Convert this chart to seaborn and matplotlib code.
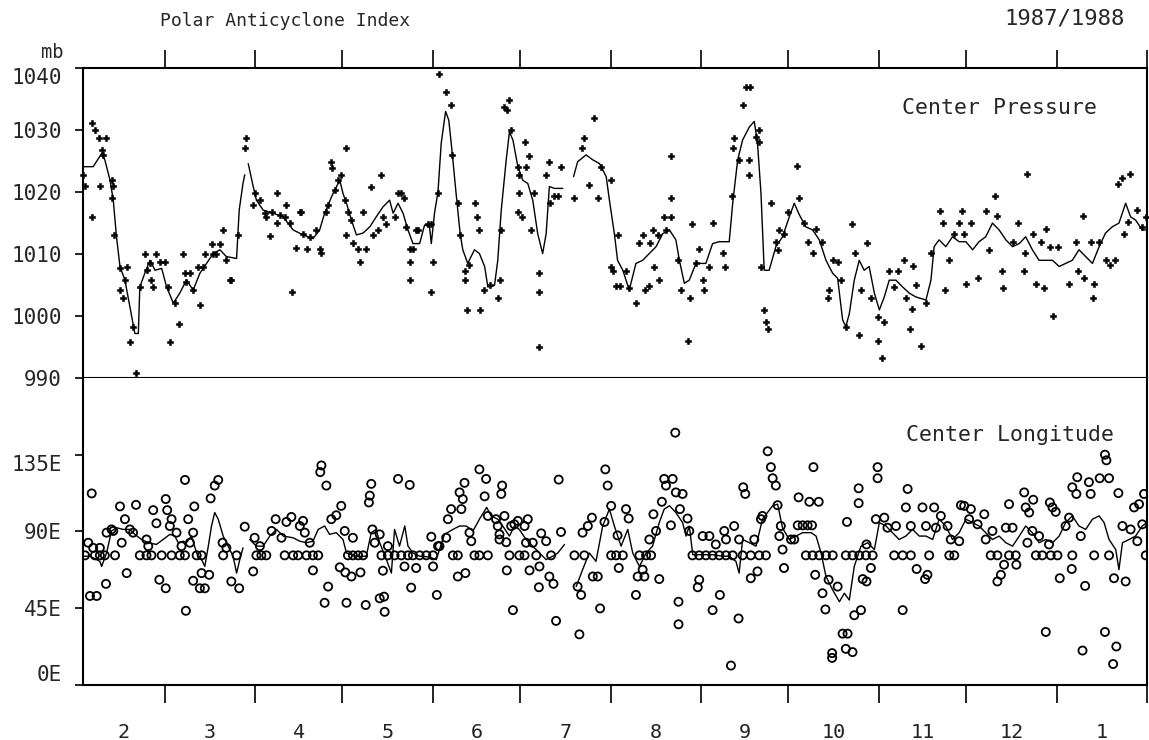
import numpy as np
import pandas as pd
import matplotlib
matplotlib.use("Agg")
import matplotlib.pyplot as plt
import seaborn as sns

# ---------------- data (day 0 = 1 Feb 1987) ----------------
month_labels = ["2", "3", "4", "5", "6", "7", "8", "9", "10", "11", "12", "1"]
month_lengths = [28, 31, 30, 31, 30, 31, 31, 30, 31, 30, 31, 31]
pres_ticks = [990, 1000, 1010, 1020, 1030, 1040]
lon_ticks = [0, 45, 90, 135]
lon_tick_labels = ["0E", "45E", "90E", "135E"]

# running mean of centre pressure (NaN = gap in curve)
pres_line_day = [0.1, 3.5, 6.4, 7.5, 9.3, 10.4, 11.5, 12.7, 14.4, 16.1, 17.8, 19.0, 19.5, 21.2, 23.0,
                 24.7, 27.0, 28.7, 31.0, 33.2, 35.5, 37.8, 40.1, 42.4, 44.7, 47.0, 49.2, 52.7, 53.6,
                 54.9, 55.5, 56.1, 56.7, 58.4, 59.5, 61.8, 65.2, 68.7, 72.1, 75.5, 78.9, 81.2, 82.9,
                 85.8, 88.1, 89.2, 90.4, 92.1, 93.8, 96.1, 98.4, 100.6, 102.9, 105.2, 106.4, 108.1,
                 109.8, 111.5, 113.2, 115.5, 117.2, 118.9, 119.5, 120.6, 121.8, 122.9, 124.4, 125.5,
                 126.7, 128.0, 129.4, 130.3, 132.0, 134.3, 136.0, 137.8, 138.9, 141.2, 142.3, 143.5,
                 145.2, 146.3, 147.5, 149.2, 150.9, 152.6, 154.3, 156.0, 157.7, 158.9, 160.0, 161.7,
                 164.6, 166.5, 168.3, 169.7, 172.6, 174.9, 177.2, 179.5, 180.6, 182.3, 183.4, 185.2,
                 187.4, 189.7, 192.0, 194.3, 196.6, 198.9, 201.2, 203.4, 204.6, 206.3, 208.0, 210.3,
                 213.7, 216.0, 218.3, 221.7, 222.9, 224.6, 226.3, 228.6, 230.3, 231.4, 232.6, 233.7,
                 235.4, 237.7, 240.0, 242.3, 244.0, 245.8, 248.0, 250.3, 252.6, 254.9, 257.2, 258.9,
                 260.6, 261.7, 262.9, 264.6, 266.3, 268.0, 269.7, 271.5, 273.2, 274.9, 276.6, 278.9,
                 281.2, 283.5, 285.7, 289.2, 290.9, 292.0, 293.7, 296.0, 298.3, 300.6, 302.9, 305.2,
                 307.4, 309.7, 312.0, 314.3, 316.6, 318.9, 321.2, 323.4, 325.7, 328.0, 330.3, 332.6,
                 334.9, 337.1, 339.4, 341.7, 344.0, 346.3, 348.6, 350.8, 353.1, 355.4, 357.7, 359.4,
                 361.1, 363.4, 365.0]
pres_line_val = [1024.1, 1024.1, 1026.2, 1025.2, 1021.9, 1018.7, 1012.8, 1008.0, 1005.8, 1001.5, 997.2,
                 997.2, 1004.7, 1006.9, 1009.0, 1007.4, 1007.7, 1004.7, 1002.1, 1003.7, 1005.8, 1004.2,
                 1006.9, 1008.5, 1010.1, 1010.7, 1009.6, 1009.3, 1017.1, 1021.4, 1022.8, np.nan, 1024.6,
                 1020.9, 1018.7, 1017.1, 1016.6, 1016.0, 1013.9, 1013.1, 1012.5, 1013.9, 1016.6, 1019.8,
                 1021.9, 1019.8, 1018.2, 1015.5, 1013.1, 1013.4, 1014.4, 1016.0, 1017.6, 1018.7, 1016.6,
                 1018.2, 1016.6, 1013.9, 1011.7, 1011.7, 1014.7, 1014.4, 1011.7, 1016.6, 1020.1, 1027.9,
                 1033.0, 1031.6, 1026.2, 1019.8, 1013.3, 1010.7, 1008.5, 1010.7, 1010.1, 1008.0, 1004.7,
                 1005.0, 1009.0, 1017.1, 1025.2, 1029.7, 1028.4, 1024.1, 1021.9, 1021.4, 1018.7, 1013.3,
                 1010.1, 1013.3, 1020.9, 1020.6, 1020.6, np.nan, 1022.5, 1024.9, 1026.0, 1025.2, 1024.6,
                 1022.5, 1018.7, 1013.3, 1009.0, 1007.4, 1004.2, 1008.5, 1009.0, 1010.1, 1011.2, 1013.3,
                 1013.9, 1012.3, 1009.0, 1005.3, 1005.8, 1008.5, 1008.5, 1011.7, 1012.0, 1012.0, 1018.2,
                 1025.2, 1028.4, 1030.5, 1031.4, 1027.9, 1019.8, 1007.4, 1007.4, 1011.2, 1012.8, 1016.0,
                 1018.2, 1016.3, 1014.4, 1013.9, 1012.3, 1009.0, 1006.9, 1006.1, 999.4, 998.3, 1000.4,
                 1005.8, 1009.0, 1007.4, 1008.0, 1003.7, 1001.0, 1003.1, 1005.8, 1005.8, 1004.7, 1003.7,
                 1003.1, 1002.6, 1005.8, 1011.2, 1012.3, 1011.2, 1012.8, 1012.0, 1012.0, 1010.7, 1012.0,
                 1012.8, 1015.0, 1013.9, 1012.3, 1011.2, 1011.7, 1012.8, 1010.7, 1009.0, 1009.0, 1009.0,
                 1008.0, 1008.5, 1009.0, 1010.7, 1009.6, 1008.5, 1011.2, 1013.4, 1014.4, 1015.0, 1018.2,
                 1016.0, 1015.5, 1013.9, 1013.9]

# individual centre-pressure observations
pres_pt_day = [0.1, 0.7, 3.0, 4.1, 5.6, 7.9, 5.8, 3.0, 6.4, 7.0, 9.8, 10.4, 10.1, 10.7, 12.7, 15.0, 12.7,
               13.6, 14.4, 16.3, 17.2, 18.2, 19.5, 21.2, 21.8, 23.0, 23.5, 24.1, 25.0, 26.4, 28.1, 29.2,
               30.0, 31.5, 33.0, 34.4, 35.0, 35.5, 36.7, 37.8, 39.5, 40.1, 41.8, 41.2, 44.1, 44.7, 45.8,
               48.1, 47.0, 49.2, 50.4, 50.9, 53.2, 55.5, 55.9, 58.9, 58.4, 60.7, 62.4, 62.9, 64.1, 64.7,
               66.7, 66.4, 67.5, 69.2, 69.8, 70.9, 71.7, 73.0, 74.4, 74.9, 75.5, 76.7, 77.8, 80.1, 81.2,
               81.8, 83.5, 84.1, 85.2, 85.6, 87.5, 88.6, 86.4, 90.4, 89.8, 90.1, 90.9, 92.1, 92.6, 94.4,
               94.9, 96.1, 97.2, 98.9, 99.5, 101.2, 102.4, 102.9, 103.8, 106.9, 108.1, 109.2, 110.3,
               110.9, 112.3, 112.3, 112.3, 113.2, 114.3, 114.9, 118.3, 119.5, 120.1, 119.5, 121.8, 122.1,
               124.4, 126.3, 126.7, 128.6, 129.4, 130.9, 130.9, 131.7, 132.6, 134.6, 135.1, 135.7, 136.3,
               137.5, 139.5, 142.3, 142.9, 143.5, 144.6, 146.1, 145.4, 146.9, 149.2, 149.5, 151.8, 152.0,
               152.9, 149.7, 149.2, 150.7, 153.7, 154.9, 156.4, 156.6, 156.3, 158.9, 160.0, 160.3, 161.7,
               162.9, 164.0, 168.4, 171.1, 172.0, 173.5, 175.4, 176.6, 177.7, 181.2, 183.4, 181.2, 181.7,
               182.9, 184.3, 186.3, 187.4, 189.7, 190.9, 192.0, 192.9, 194.1, 194.5, 195.4, 196.0, 197.2,
               197.7, 199.4, 201.7, 201.7, 201.7, 200.0, 204.0, 205.2, 207.4, 208.2, 208.8, 210.3, 211.4,
               212.6, 213.1, 214.9, 216.0, 219.4, 220.3, 222.6, 222.9, 223.4, 225.1, 226.6, 227.4, 228.8,
               228.6, 228.6, 230.9, 231.8, 232.0, 232.6, 233.7, 234.3, 235.1, 236.2, 237.7, 238.9, 240.5,
               241.7, 238.3, 244.8, 245.5, 247.5, 250.3, 248.6, 251.5, 253.7, 257.2, 258.9, 256.0, 255.5,
               260.0, 261.7, 263.8, 266.3, 265.0, 268.8, 266.9, 270.3, 272.6, 272.6, 274.0, 274.9, 276.6,
               279.5, 278.3, 281.7, 282.3, 283.7, 284.6, 285.7, 284.4, 287.5, 289.2, 290.9, 294.0, 294.9,
               295.8, 297.2, 298.9, 301.5, 300.4, 302.3, 303.1, 304.6, 307.1, 309.7, 310.9, 312.9, 313.7,
               315.4, 315.7, 318.9, 320.9, 322.9, 323.1, 324.0, 325.9, 327.1, 328.6, 329.7, 330.3, 331.7,
               332.8, 334.6, 338.1, 340.8, 341.5, 342.9, 343.4, 345.7, 346.5, 346.8, 348.6, 350.8, 352.3,
               354.0, 355.2, 356.6, 359.1, 357.1, 358.6, 361.7, 363.4, 364.6, 261.7]
pres_pt_val = [1022.8, 1021.0, 1031.1, 1030.0, 1028.8, 1028.8, 1021.0, 1016.0, 1026.8, 1026.0, 1021.9,
               1021.0, 1019.0, 1013.1, 1007.7, 1007.9, 1004.2, 1002.9, 1005.8, 995.9, 998.3, 990.8, 1004.7,
               1010.0, 1007.4, 1008.6, 1005.8, 1004.7, 1010.0, 1008.8, 1008.8, 1004.7, 995.9, 1002.1, 998.8,
               1010.0, 1006.9, 1005.5, 1006.9, 1004.2, 1008.0, 1001.8, 1010.0, 1008.0, 1011.7, 1010.0,
               1010.0, 1013.9, 1011.7, 1009.0, 1005.8, 1005.8, 1013.1, 1027.1, 1028.8, 1019.8, 1017.9,
               1018.7, 1016.6, 1016.0, 1012.9, 1016.8, 1019.8, 1015.0, 1016.3, 1016.0, 1017.9, 1015.0,
               1003.9, 1011.0, 1016.8, 1016.8, 1013.3, 1010.9, 1012.8, 1013.9, 1010.9, 1010.1, 1016.8,
               1017.9, 1024.9, 1023.9, 1021.9, 1022.7, 1020.3, 1027.1, 1018.7, 1013.1, 1016.8, 1015.5,
               1011.8, 1010.9, 1008.8, 1016.8, 1010.9, 1020.9, 1013.1, 1013.9, 1022.7, 1016.0, 1014.8,
               1016.0, 1019.8, 1019.8, 1019.0, 1014.4, 1010.9, 1008.8, 1005.8, 1010.9, 1013.9, 1013.9,
               1014.8, 1014.8, 1008.8, 1003.9, 1019.8, 1039.0,
               1036.2, 1034.0, 1026.0, 1018.2, 1013.1, 1007.2, 1005.8, 1001.0, 1008.2, 1018.2, 1016.0,
               1013.9, 1001.0, 1004.2, 1005.0, 1002.9, 1005.8, 1013.9, 1033.8, 1034.8, 1033.2, 1030.0,
               1024.1, 1022.8, 1028.0, 1024.1, 1025.8, 1019.8, 1016.8, 1016.0, 1013.9, 1019.8, 1006.9,
               1003.9, 995.1, 1022.8, 1024.9, 1018.2, 1019.3, 1019.3, 1024.1, 1019.0, 1027.1, 1028.8,
               1021.1, 1031.9, 1019.0, 1024.1, 1021.9, 1013.1, 1008.0, 1007.2, 1004.8, 1004.8, 1007.2,
               1004.5, 1002.1, 1011.8, 1013.1, 1004.2, 1004.8, 1011.8, 1013.9, 1008.0, 1013.1, 1005.8,
               1016.0, 1016.0, 1019.0, 1025.9, 1013.9, 1009.0, 1004.2, 996.0, 1002.9, 1014.8, 1008.5,
               1010.9, 1005.8, 1004.2, 1008.0, 1015.0, 1010.1, 1008.0, 1019.3, 1027.1, 1028.8, 1025.2,
               1034.0, 1037.0, 1037.0, 1025.2, 1022.8, 1028.9, 1030.0, 1028.1, 1008.0, 1001.0, 999.1,
               998.0, 1018.2, 1012.0, 1013.9, 1013.3, 1016.8, 1010.7,
               1024.2, 1019.0, 1015.0, 1010.2, 1012.0, 1014.1, 1012.0, 1009.0, 1008.8, 1004.2, 1003.0,
               1005.8, 998.3, 1014.8, 996.9, 1010.2, 1011.8, 1004.2, 1002.9, 999.9, 996.0, 993.2, 999.1,
               1007.2, 1007.2, 1004.7, 1009.0, 1003.0, 998.0, 1008.1, 1005.0, 1001.2, 995.2, 1002.1,
               1010.1, 1017.0, 1015.0, 1004.2, 1009.0, 1013.3, 1017.0, 1015.0, 1013.3, 1005.2, 1015.0,
               1006.1, 1017.0, 1010.7, 1019.3, 1016.2, 1007.3, 1004.5, 1012.0, 1015.0, 1007.3, 1010.1,
               1023.0, 1013.3, 1005.2, 1012.0, 1004.5, 1014.1, 1011.2, 1000.0, 1011.1, 1005.2, 1012.0,
               1007.3, 1016.2, 1006.1, 1012.0, 1003.0, 1005.2, 1012.0, 1009.0, 1008.2, 1009.0, 1021.3,
               1022.2, 1023.0, 1013.3, 1015.1, 1017.1, 1014.4, 1016.0, 989.4]

# running mean of centre longitude (NaN = gap in curve)
lon_line_day = [0.1, 2.4, 5.8, 6.4, 8.1, 9.8, 11.5, 13.8, 16.1, 17.8, 20.1, 22.4, 25.2, 27.5, 29.8, 31.5,
                32.7, 34.4, 35.5, 37.2, 39.0, 40.7, 41.8, 43.0, 44.1, 45.2, 46.4, 48.1, 49.8, 51.5, 52.7,
                53.8, 54.9, 56.0, 57.2, 59.5, 61.8, 64.1, 66.4, 68.7, 72.1, 74.4, 76.7, 78.9, 80.7, 82.9,
                84.6, 86.9, 89.2, 90.4, 93.8, 97.2, 98.9, 100.6, 101.8, 104.1, 105.8, 106.9, 108.6, 110.4,
                111.5, 113.2, 115.5, 118.9, 121.2, 124.0, 126.9, 129.2, 131.5, 133.8, 136.0, 138.5, 140.0,
                142.3, 144.0, 146.3, 148.0, 149.7, 152.0, 154.3, 156.6, 158.9, 161.2, 162.9, 165.2, 167.0,
                169.2, 171.4, 173.7, 176.0, 178.3, 180.6, 182.3, 184.6, 186.9, 188.6, 190.9, 193.2, 195.4,
                197.7, 199.4, 201.2, 203.4, 205.7, 206.9, 208.0, 209.2, 212.6, 216.0, 219.4, 221.7, 224.0,
                225.1, 226.3, 228.6, 230.9, 233.1, 236.6, 238.3, 238.9, 240.0, 242.3, 244.6, 246.9, 249.8,
                251.5, 253.2, 254.9, 257.2, 259.5, 261.2, 262.9, 264.6, 266.9, 269.2, 271.5, 273.2, 275.5,
                277.7, 280.0, 282.3, 284.6, 286.9, 289.2, 291.5, 293.7, 296.0, 298.3, 300.6, 302.9, 305.2,
                307.4, 309.7, 312.0, 314.3, 316.6, 318.9, 321.2, 323.4, 325.7, 328.0, 330.3, 332.6, 334.9,
                337.1, 339.4, 341.7, 344.0, 346.3, 348.6, 350.3, 352.0, 354.3, 355.4, 356.6, 358.9, 361.1,
                363.4, 365.0]
lon_line_val = [75.5, 75.5, 72.5, 69.5, 77.4, 90.3, 92.2, 91.2, 91.2, 88.3, 85.3, 83.4, 82.4, 85.3, 88.3,
                87.3, 83.4, 84.3, 83.4, 87.3, 77.4, 73.5, 69.5, 81.4, 93.2, 101.1, 97.2, 87.3, 81.4, 75.5,
                65.6, 73.5, 80.4, np.nan, 85.3, 81.4, 81.4, 87.3, 91.2, 87.3, 86.3, 84.3, 83.4, 84.3, 91.2,
                93.2, 88.3, 89.3, 85.3, 77.4, 75.5, 75.5, 89.3, 91.2, 83.4, 73.5, 65.6, 91.2, 81.4, 93.2,
                81.4, 77.4, 75.5, 75.0, 73.5, 88.3, 91.2, 93.2, 93.2, 90.3, 97.2, 104.1, 99.1, 97.2, 93.2,
                87.3, 93.2, 91.2, 85.3, 81.4, 77.4, 73.5, 75.5, 77.4, 82.4, np.nan, 57.7, 67.6, 77.4, 72.5,
                93.2, 103.1, 93.2, 81.4, 91.2, 77.4, 69.5, 77.4, 81.4, 95.2, 103.1, 105.1, 101.1, 95.2, 87.3,
                93.2, 76.4, 76.4, 76.4, 75.5, 75.5, 72.5, 65.6, 85.3, 83.4, 81.4, 97.2, 105.1, 106.0, 101.1,
                92.0, 85.3, 87.3, 89.3, 89.3, 87.3, 77.4, 63.6, 55.7, 48.8, 53.8, 49.8, 69.5, 81.4, 83.4,
                79.4, 95.2, 93.2, 89.3, 85.3, 87.3, 91.2, 87.3, 87.3, 85.3, 97.2, 93.2, 85.3, 89.3, 97.2,
                95.2, 93.2, 89.3, 85.3, 87.3, 83.4, 81.4, 87.3, 93.2, 89.3, 83.4, 85.3, 83.4, 87.3, 95.2,
                99.1, 93.2, 91.2, 97.2, 99.1, 95.2, 85.3, 79.4, 67.6, 83.4, 85.3, 87.3, 93.2, 95.2]

# individual centre-longitude observations
lon_pt_day = [0.7, 4.1, 5.8, 7.5, 11.0, 19.5, 21.8, 23.5, 27.0, 30.4, 33.2, 35.0, 39.0, 40.7, 48.1, 52.7,
              59.5, 61.2, 62.9, 69.2, 72.1, 73.8, 76.7, 78.9, 80.7, 90.9, 92.6, 94.4, 96.1, 102.4, 104.6,
              106.9, 109.2, 111.5, 113.2, 115.5, 117.8, 120.1, 126.9, 128.6, 134.3, 136.0, 138.9, 146.3,
              149.7, 151.5, 155.5, 160.6, 168.6, 172.0, 181.2, 182.9, 185.2, 190.9, 193.2, 194.9, 209.1,
              211.4, 213.7, 216.0, 218.3, 220.6, 222.9, 226.3, 229.1, 232.0, 234.3, 248.0, 250.3, 252.6,
              254.9, 257.2, 261.7, 264.0, 266.3, 268.6, 270.9, 278.3, 281.2, 284.0, 290.3, 297.2, 298.9,
              311.4, 313.7, 317.7, 320.0, 326.9, 329.1, 332.0, 334.3, 339.4, 346.9, 352.0, 364.6,
              3.0, 1.8, 3.5, 5.8, 7.9, 2.4, 4.7, 8.1, 9.8, 10.4, 12.7, 13.3, 14.4, 15.0, 16.1, 17.2, 18.2,
              21.8, 22.4, 24.1, 25.2, 26.2, 28.4, 28.4, 28.9, 29.8, 30.4, 32.1, 33.8, 35.0, 35.3, 36.1,
              37.8, 38.2, 36.7, 37.8, 40.1, 41.8, 40.7, 43.3, 43.8, 45.2, 46.4, 47.9, 49.2, 50.9, 53.6,
              55.5, 58.4, 58.9, 60.7, 64.7, 66.1, 68.1, 69.8, 71.5, 74.4, 75.5, 76.1, 77.8, 78.9, 81.8,
              81.4, 83.5, 84.1, 82.9, 85.2, 86.9, 88.6, 88.1, 89.8, 90.0, 92.1, 92.6, 90.4, 95.2, 97.0,
              98.1, 98.4, 98.9, 99.3, 100.1, 101.8, 101.8, 103.3, 103.5, 102.9, 104.6, 108.1, 112.1,
              110.3, 112.6, 114.3, 119.5, 120.1, 121.8, 121.4,
              122.3, 125.2, 126.3, 124.6, 128.6, 129.2, 130.3, 130.9, 129.8, 131.2, 132.6, 133.2, 136.0,
              137.8, 138.3, 138.9, 141.7, 142.3, 142.9, 142.9, 143.5, 143.8, 144.6, 145.4, 145.2, 146.9,
              147.5, 148.0, 149.2, 151.5, 152.6, 152.0, 153.2, 154.3, 156.4, 156.6, 157.2, 158.9, 160.0,
              161.4, 162.3, 163.2, 164.0, 169.7, 170.9, 170.3, 171.4, 173.2, 174.6, 174.9, 176.6, 177.4,
              178.9, 179.2, 180.0, 181.2, 183.4, 183.8, 186.3, 187.2, 189.7, 190.3, 192.0, 192.6, 194.3,
              195.7, 196.6, 197.7, 198.6, 199.4, 200.0, 202.3, 203.2, 203.4, 201.7, 204.3, 204.3, 204.8,
              205.7, 207.4, 208.0, 210.9, 211.4, 212.6, 214.9, 216.0, 217.1, 218.5, 220.0, 220.6, 222.3,
              223.4, 224.9, 225.1, 226.5, 227.2, 229.1, 230.3, 231.4, 232.6, 233.1, 234.9, 236.0, 236.6,
              237.7, 238.3, 239.4, 238.9, 240.0, 240.5,
              242.9, 244.0, 245.2, 246.9, 248.6, 250.1, 245.5, 249.2, 252.4, 250.6, 251.2, 253.7, 254.7,
              255.8, 257.0, 257.0, 258.9, 260.6, 262.3, 261.7, 264.0, 262.1, 264.6, 266.9, 266.1, 266.1,
              267.5, 268.8, 268.8, 270.3, 272.0, 272.6, 272.6, 274.9, 276.0, 278.9, 281.2, 282.9, 282.3,
              284.0, 286.0, 288.0, 288.9, 289.7, 289.2, 292.0, 292.6, 294.3, 296.6, 297.7, 300.6, 301.2,
              302.3, 304.6, 304.0, 306.9, 309.2, 309.7, 312.0, 313.7, 314.9, 316.0, 316.6, 318.9, 320.2,
              317.7, 322.9, 323.4, 324.6, 326.0, 324.0, 325.7, 328.0, 330.3, 331.7, 332.6, 333.7, 331.4,
              335.1, 337.1, 338.3, 339.2, 339.4, 341.1, 340.8, 342.3, 342.9, 343.8, 345.1, 345.7, 348.8,
              352.0, 350.6, 351.1, 350.6, 353.4, 354.5, 355.2, 353.7, 357.7, 356.6, 359.4, 360.6, 362.3,
              364.0, 361.7, 363.4]
lon_pt_val = [76.0] * 95 + [
              112.3, 83.4, 80.4, 80.4, 59.3, 52.2, 52.2, 89.3, 91.2, 90.3, 104.7, 83.4, 97.2, 65.6, 91.2,
              89.3, 105.6, 85.3, 81.4, 102.5, 94.8, 61.7, 56.7, 109.0, 102.5, 93.2, 97.2, 89.3, 81.4,
              120.2, 43.5, 97.2, 89.3, 104.7, 83.4, 61.1, 56.7, 56.7, 65.6, 64.6, 109.4, 116.9, 120.2,
              83.4, 80.4, 60.7, 56.7, 92.8, 66.6, 86.3, 81.4, 90.3, 97.2, 86.3, 95.6, 98.5, 93.2, 96.2,
              89.3, 83.4, 67.2, 128.7, 124.8, 116.9, 57.7, 48.2, 97.2, 99.5, 105.0, 69.0, 90.3, 66.0,
              63.6, 86.3, 48.2, 66.0, 46.9, 107.0, 111.0, 117.9, 91.2, 83.4, 88.3, 50.8, 51.8, 42.9, 67.0,
              81.4, 120.8, 117.3, 69.5, 57.1, 68.6, 86.9, 69.5, 81.4, 52.8,
              81.4, 97.2, 103.1, 86.3, 63.6, 112.9, 109.0, 118.5, 103.1, 65.6, 89.3, 84.3, 126.4, 110.6,
              120.8, 99.1, 97.2, 93.2, 88.3, 85.3, 112.0, 116.9, 99.1, 67.2, 83.7, 93.2, 43.9, 94.2, 96.2,
              93.2, 97.2, 83.4, 67.2, 83.4, 57.3, 69.5, 88.9, 84.3, 63.6, 59.3, 37.6, 120.4, 89.7, 57.7,
              52.8, 29.7, 89.3, 93.2, 98.1, 63.6, 63.6, 44.9, 95.6, 126.4, 116.9, 105.0, 87.7, 68.6,
              103.1, 97.6, 52.8, 63.6, 67.6, 63.6, 85.3, 100.1, 90.3, 62.1, 107.4, 120.8, 116.9, 120.8,
              147.9, 112.9, 93.6, 48.8, 35.6, 103.1, 112.0, 97.6, 90.3, 57.3, 61.7, 87.3, 87.3, 43.9,
              82.4, 52.8, 90.3, 85.3, 11.4, 93.2, 39.0, 85.3, 115.9, 112.0, 62.6, 85.3, 66.6, 97.2, 99.1,
              137.0, 127.7, 121.2, 116.9, 105.4, 93.2, 87.3, 79.4, 68.6,
              85.3, 85.3, 93.6, 93.6, 93.6, 93.6, 110.0, 107.4, 107.4, 127.7, 64.6, 53.8, 44.3, 61.7,
              18.7, 15.9, 57.7, 30.1, 30.1, 21.2, 19.3, 95.6, 40.9, 43.9, 115.3, 106.6, 62.1, 60.7, 82.4,
              68.6, 97.2, 127.7, 121.2, 98.1, 92.2, 93.2, 43.9, 114.9, 104.1, 93.2, 68.0, 104.1, 62.1,
              64.6, 93.2, 104.1, 92.2, 99.1, 93.2, 85.3, 84.3, 105.4, 105.0, 103.1, 97.2, 94.2, 100.1,
              85.3, 90.3, 60.7, 64.6, 70.5, 92.2, 92.2, 70.5, 106.0, 112.9, 104.1, 101.1, 108.6, 83.4,
              90.3, 87.3, 31.1, 107.0, 104.1, 101.5, 82.4, 62.6, 93.2, 98.1, 68.0, 115.9, 121.8, 112.0,
              87.3, 20.2, 58.1, 118.9, 112.0, 121.2, 121.2, 135.0, 131.7, 31.1, 12.3, 22.6, 112.5, 62.6,
              60.7, 93.2, 91.2, 104.1, 106.0, 112.0, 84.3, 94.2]

# ---------------- figure ----------------
sns.set_theme(style="white")
plt.rcParams["font.family"] = ["DejaVu Sans Mono", "DejaVu Sans"]

month_edges = np.cumsum([0] + month_lengths)
month_centres = (month_edges[:-1] + month_edges[1:]) / 2.0

fig = plt.figure(figsize=(11.49, 7.40), dpi=100)
ax1 = fig.add_axes([0.0722, 0.489, 0.926, 0.419])
ax2 = fig.add_axes([0.0722, 0.0743, 0.926, 0.415])


def line_frame(days, vals):
    df = pd.DataFrame({"day": days, "val": vals})
    df["seg"] = df["val"].isna().cumsum()
    return df.dropna()


# top panel: pressure
pl = line_frame(pres_line_day, pres_line_val)
sns.lineplot(data=pl, x="day", y="val", units="seg", estimator=None, ax=ax1,
             color="black", linewidth=1.0, sort=False)
sns.scatterplot(x=pres_pt_day, y=pres_pt_val, ax=ax1, marker="P", s=22,
                color="black", edgecolor="black", linewidth=0.4, clip_on=False)

# bottom panel: longitude
ll = line_frame(lon_line_day, lon_line_val)
sns.lineplot(data=ll, x="day", y="val", units="seg", estimator=None, ax=ax2,
             color="black", linewidth=1.0, sort=False)
sns.scatterplot(x=lon_pt_day, y=lon_pt_val, ax=ax2, marker="o", s=34)
circ = ax2.collections[-1]
circ.set_facecolor("none")
circ.set_edgecolor("black")
circ.set_linewidth(1.3)

for ax in (ax1, ax2):
    ax.set_xlim(0, 365)
    ax.set_xlabel("")
    ax.set_ylabel("")
    for sp in ax.spines.values():
        sp.set_color("black")
        sp.set_linewidth(1.5)

ax1.set_ylim(990, 1040)
ax2.set_ylim(0, 180)
ax2.spines["top"].set_visible(False)

# x ticks: month boundaries (top of upper panel, bottom of lower panel)
ax1.set_xticks(month_edges[1:])
ax1.tick_params(axis="x", which="major", bottom=False, top=True, labelbottom=False,
                labeltop=False, direction="out", length=13, width=1.2, color="black")
ax2.set_xticks(month_edges[1:])
ax2.set_xticks(month_centres, minor=True)
ax2.set_xticklabels([], minor=False)
ax2.set_xticklabels(month_labels, minor=True)
ax2.tick_params(axis="x", which="major", bottom=True, top=False, direction="out",
                length=13, width=1.2, color="black")
ax2.tick_params(axis="x", which="minor", length=0, pad=27, labelsize=14.5,
                labelcolor="#222222")

# y ticks
ax1.set_yticks(pres_ticks)
ax1.set_yticklabels([str(t) for t in pres_ticks])
ax2.set_yticks(lon_ticks)
ax2.set_yticklabels(lon_tick_labels)
for ax in (ax1, ax2):
    ax.tick_params(axis="y", left=True, right=False, direction="out", length=6,
                   width=1.2, color="black", labelsize=15, pad=9)
for lbl in ax1.get_yticklabels():
    if lbl.get_text() == "1040":
        lbl.set_va("top")
for lbl in ax2.get_yticklabels():
    if lbl.get_text() == "0E":
        lbl.set_va("bottom")
    if lbl.get_text() == "135E":
        lbl.set_va("top")

# texts
fig.text(160 / 1149, 1 - 21 / 740, "Polar Anticyclone Index", fontsize=13,
         ha="left", va="center")
fig.text(1125 / 1149, 1 - 19 / 740, "1987/1988", fontsize=16, ha="right", va="center")
fig.text(52 / 1149, 1 - 52 / 740, "mb", fontsize=13.5, ha="center", va="center")
ax1.text(1097 / 1149, 1 - 108 / 740, "Center Pressure", transform=fig.transFigure,
         fontsize=15.5, ha="right", va="center")
ax2.text(1114 / 1149, 1 - 435 / 740, "Center Longitude", transform=fig.transFigure,
         fontsize=15.5, ha="right", va="center")

fig.savefig("out.png", dpi=100, facecolor="white")
